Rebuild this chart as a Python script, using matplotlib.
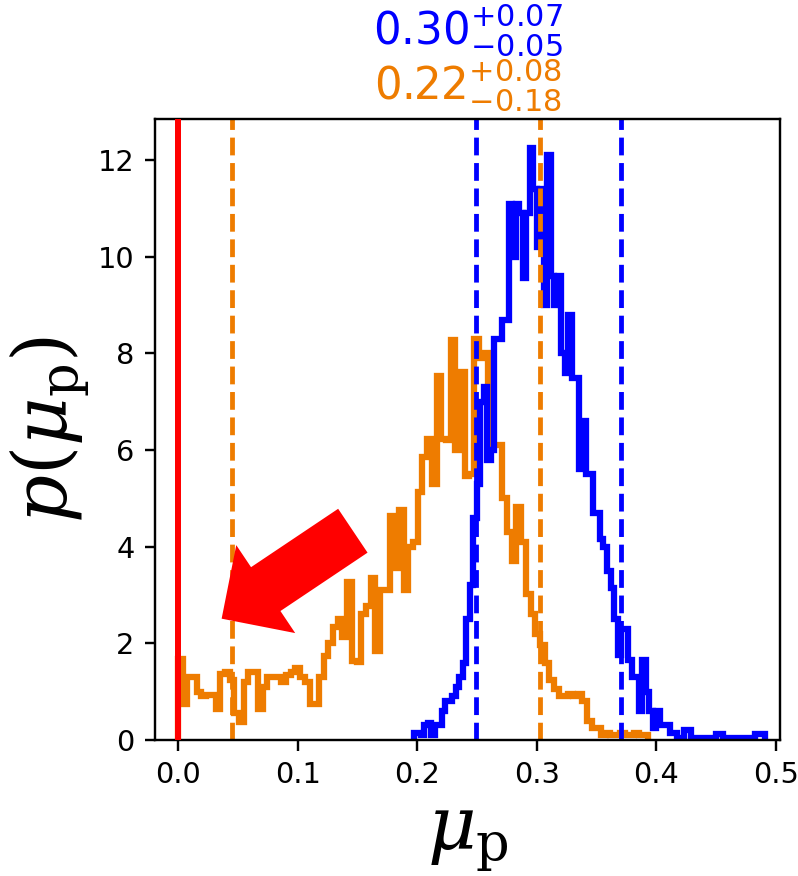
import numpy as np
import matplotlib.pyplot as plt

# histogram heights (density)
orange_lo, orange_hi = 0.0, 0.393
orange_vals = [1.68, 0.75, 1.3, 1.3, 1.0, 0.9, 0.93, 0.93, 0.64, 1.37,
               1.4, 1.25, 0.55, 0.38, 1.2, 1.4, 1.41, 0.64, 1.1, 1.3,
               1.3, 1.3, 1.2, 1.35, 1.4, 1.48, 1.3, 1.2, 0.74, 0.74,
               1.3, 1.74, 2.0, 2.33, 2.5, 2.13, 3.27, 1.64, 1.62, 2.6,
               2.78, 3.35, 1.84, 3.1, 3.1, 4.64, 3.56, 4.75, 3.1, 4.0,
               4.1, 5.13, 5.85, 6.23, 5.3, 7.54, 6.23, 6.2, 8.28, 6.0,
               7.62, 5.46, 5.5, 8.3, 7.9, 8.0, 7.0, 6.1, 6.1, 5.0,
               4.3, 3.7, 4.83, 4.1, 3.02, 2.6, 2.2, 1.96, 1.6, 1.25,
               1.05, 0.9, 0.9, 0.95, 0.9, 0.95, 0.8, 0.4, 0.25, 0.25,
               0.1, 0.15, 0.1, 0.1, 0.15, 0.1, 0.1, 0.15, 0.1, 0.1]

blue_lo, blue_hi = 0.197, 0.491
blue_vals = [0.15, 0.15, 0.1, 0.3, 0.35, 0.1, 0.3, 0.3, 0.6, 0.8,
             0.8, 0.9, 1.1, 1.3, 1.6, 2.5, 3.2, 4.6, 5.3, 7.0,
             7.3, 5.8, 6.0, 8.3, 8.3, 8.7, 8.7, 11.1, 10.0, 11.1,
             10.9, 9.55, 10.9, 12.26, 11.4, 10.2, 11.4, 9.0, 12.1, 9.6,
             9.0, 9.6, 8.0, 7.6, 8.8, 7.5, 7.5, 5.6, 6.6, 5.5,
             5.5, 4.7, 4.7, 4.15, 4.0, 3.5, 3.15, 2.5, 1.75, 2.3,
             2.3, 1.65, 1.3, 1.3, 0.6, 1.65, 1.0, 0.6, 0.25, 0.6,
             0.3, 0.3, 0.3, 0.15, 0.15, 0.05, 0.05, 0.2, 0.2, 0.05,
             0.05, 0.05, 0.05, 0.05, 0.05, 0.05, 0.12, 0.12, 0.05, 0.05,
             0.05, 0.05, 0.05, 0.05, 0.05, 0.05, 0.05, 0.12, 0.12, 0.12]

orange_q = [0.045, 0.303]   # 16th / 84th percentiles
blue_q = [0.249, 0.370]
orange_title = r'$0.22^{+0.08}_{-0.18}$'
blue_title = r'$0.30^{+0.07}_{-0.05}$'

col_orange = '#EE7C00'
col_blue = '#0000FF'

fig = plt.figure(figsize=(798 / 216, 876 / 216), dpi=216)
ax = fig.add_axes([0.1947, 0.1553, 0.7827, 0.7094])

o_edges = np.linspace(orange_lo, orange_hi, len(orange_vals) + 1)
b_edges = np.linspace(blue_lo, blue_hi, len(blue_vals) + 1)
ax.hist(o_edges[:-1], bins=o_edges, weights=orange_vals, histtype='step',
        color=col_orange, lw=2.1)
ax.hist(b_edges[:-1], bins=b_edges, weights=blue_vals, histtype='step',
        color=col_blue, lw=2.1)

for q in orange_q:
    ax.axvline(q, color=col_orange, ls='--', lw=1.6)
for q in blue_q:
    ax.axvline(q, color=col_blue, ls='--', lw=1.6)

ax.axvline(0.0, color='red', lw=2.0, zorder=5)

# big red arrow pointing at the low-mu tail
ax.annotate('', xy=(0.0365, 2.51), xytext=(0.1462, 4.33),
            arrowprops=dict(facecolor='red', edgecolor='none', width=17.6,
                            headwidth=35.3, headlength=17.7), zorder=6)

ax.set_xlim(-0.0189, 0.5033)
ax.set_ylim(0, 12.86)
ax.set_xticks([0.0, 0.1, 0.2, 0.3, 0.4, 0.5])
ax.set_yticks([0, 2, 4, 6, 8, 10, 12])
ax.tick_params(labelsize=9.6)

ax.set_xlabel(r'$\mu_{\rm p}$', fontsize=25, math_fontfamily='dejavuserif')
ax.set_ylabel(r'$p(\mu_{\rm p})$', fontsize=25, math_fontfamily='dejavuserif',
              labelpad=2)

ax.text(0.5, 1.1183, blue_title, color=col_blue, fontsize=14.5,
        ha='center', va='baseline', transform=ax.transAxes)
ax.text(0.5, 1.0298, orange_title, color=col_orange, fontsize=14.5,
        ha='center', va='baseline', transform=ax.transAxes)

fig.savefig('out.png', dpi=216)
